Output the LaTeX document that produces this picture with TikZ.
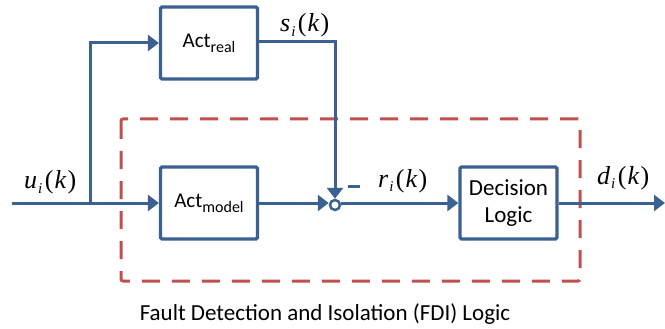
\documentclass[tikz,border=0pt]{standalone}
\usepackage{fontspec}
\setmainfont{Carlito}
\newfontfamily\serifm{Liberation Serif}
\usetikzlibrary{arrows.meta}
\definecolor{lineblue}{HTML}{3B6193}
\definecolor{dashred}{HTML}{C0504D}
\newcommand{\mlab}[2]{{\serifm\fontsize{26}{26}\selectfont\itshape #1\kern1pt\raisebox{-0.4ex}{\fontsize{15}{15}\selectfont #2}\kern2.5pt\upshape(\kern1pt\itshape k\kern1.5pt\upshape)}}
\newcommand{\actsub}[1]{Act\raisebox{-5pt}{\fontsize{16}{16}\selectfont #1}}
\tikzset{
  blk/.style={draw=lineblue, line width=3.2pt, rounded corners=1.5pt, minimum width=97pt, minimum height=72pt, inner sep=0pt, align=center},
  conn/.style={draw=lineblue, line width=3pt},
  arr/.style={conn, -{Triangle[length=11pt,width=16pt]}},
  fdi/.style={draw=dashred, line width=3pt, dash pattern=on 18pt off 12pt, rounded corners=2pt},
  lab/.style={inner sep=0pt, anchor=base west}
}
\begin{document}
\begin{tikzpicture}[x=1pt,y=-1pt]
\useasboundingbox (0,0) rectangle (665,329);
\draw[fdi] (121,119) rectangle (580,281);
\node[blk, font=\fontsize{21}{21}\selectfont] (real) at (209,43) {\actsub{real}};
\node[blk, font=\fontsize{21}{21}\selectfont] (model) at (209,203) {\actsub{model}};
\node[blk, font=\fontsize{23}{27}\selectfont] (dec) at (508.5,203) {Decision\\Logic};
\node[draw=lineblue, line width=2.5pt, circle, minimum size=10pt, inner sep=0pt, fill=white] (sum) at (335,205) {};
\coordinate (in) at (12,203);
\coordinate (br) at (90,203);
\coordinate (out) at (665,203);
\coordinate (sc) at (335,42);
\draw[conn] (in) -- (br);
\draw[arr] (br) -- (model.west);
\draw[arr] (br) |- (real.west);
\draw[arr] (real.east |- sc) -- (sc) -- (sum.north);
\draw[arr] (model.east) -- (sum.west |- model.east);
\draw[arr] (sum.east |- dec.west) -- (dec.west);
\draw[arr] (dec.east) -- (out);
\node[lab] (ulab) at (24,189) {\mlab{u}{i}};
\node[lab] (slab) at (280,32) {\mlab{s}{i}};
\node[lab] (rlab) at (378,187) {\mlab{r}{i}};
\node[lab] (dlab) at (597,184) {\mlab{d}{i}};
\node[inner sep=0pt, fill=lineblue, minimum width=12pt, minimum height=3pt] (minus) at (354,186) {};
\node[inner sep=0pt, anchor=base, font=\fontsize{23}{23}\selectfont] (title) at (325,320) {Fault Detection and Isolation (FDI) Logic};
\end{tikzpicture}
\end{document}
